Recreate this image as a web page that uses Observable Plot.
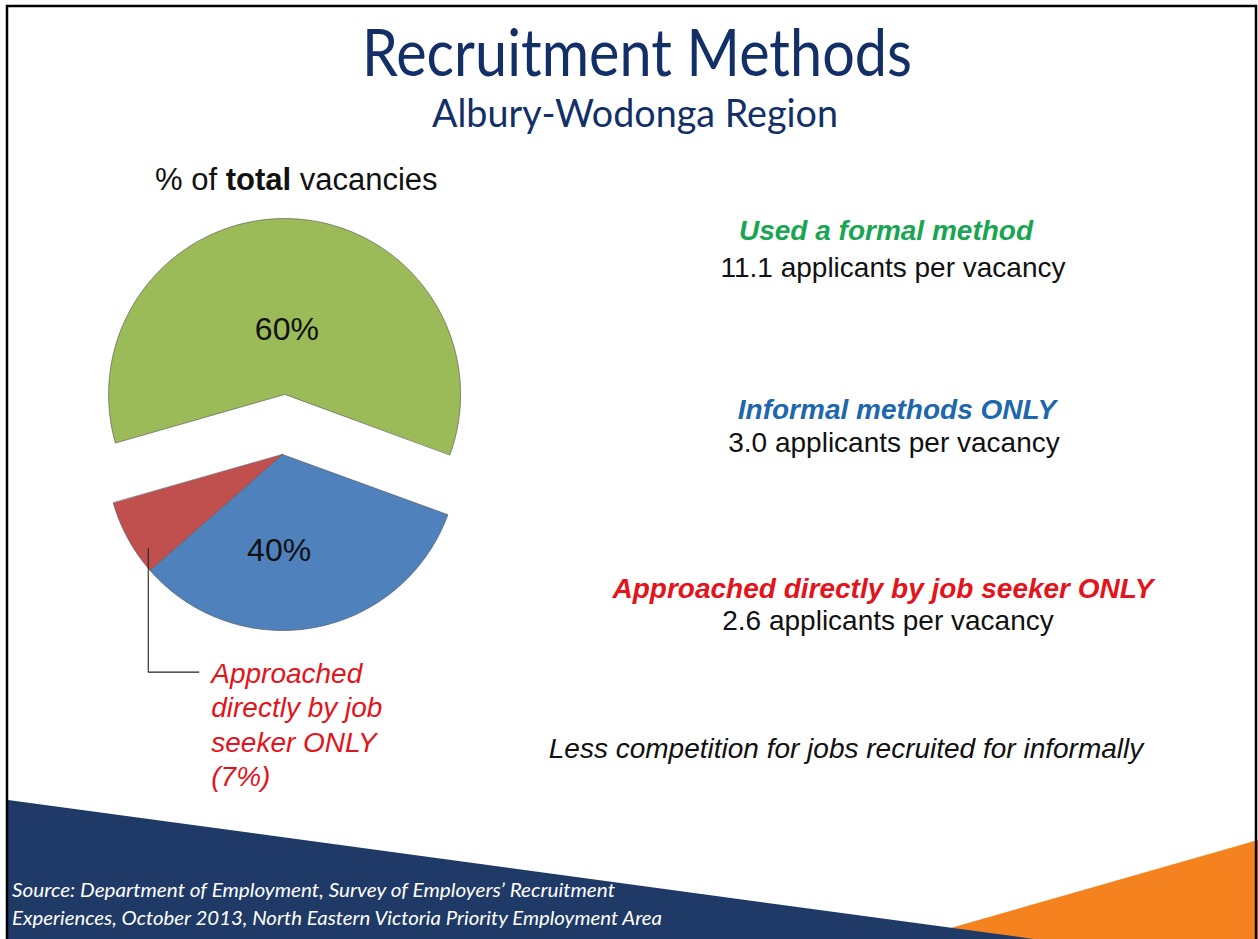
<!DOCTYPE html>
<html><head><meta charset="utf-8">
<script src="https://cdn.jsdelivr.net/npm/d3@7"></script>
<script src="https://cdn.jsdelivr.net/npm/@observablehq/plot@0.6"></script>
<style>
html,body{margin:0;padding:0;background:#fff;}
#page{position:relative;width:1258px;height:939px;overflow:hidden;background:#fff;}
#page svg.layer{position:absolute;left:0;top:0;}
#pie{position:absolute;}
</style></head><body><div id="page"><div id="pie"></div></div>
<script>
// ---------- data ----------
const categories = ["Used a formal method", "Informal methods ONLY", "Approached directly by job seeker ONLY"];
const shares = [60, 33, 7];                  // % of total vacancies (pie slices)
const groupLabels = ["60%", "40%"];          // formal / informal (incl. direct approach)
const directLabel = "Approached\ndirectly by job\nseeker ONLY\n(7%)";
const applicants = [11.1, 3.0, 2.6];          // applicants per vacancy
const titleText = "Recruitment Methods";
const subtitleText = "Albury-Wodonga Region";
const noteText = "Less competition for jobs recruited for informally";
const sourceLines = ["Source: Department of Employment, Survey of Employers\u2019 Recruitment",
                     "Experiences, October 2013, North Eastern Victoria Priority Employment Area"];

// ---------- styles ----------
const sliceColors = ["#9bbb59", "#4f81bd", "#c0504d"];
const headingColors = ["#1aa553", "#1d68ad", "#e3141b"];
const ARIAL = "'Liberation Sans', Arial, sans-serif";
const CAL = "Lato, 'Open Sans', sans-serif";

// ---------- layout ----------
const R = 176, START = -106, EXPLODE = 60;
const PLOT = {left: 62, top: 190, width: 440, height: 620};
const CENTER = {x: 282, y: 454};
const xDomain = [(PLOT.left - CENTER.x) / R, (PLOT.left + PLOT.width - CENTER.x) / R];
const yDomain = [-(PLOT.top + PLOT.height - CENTER.y) / R, (CENTER.y - PLOT.top) / R];

const rows = categories.map((c, i) => ({key: c, share: shares[i]}));
const arcs = d3.pie().sort(null).value(d => d.share)
  .startAngle(START * Math.PI / 180).endAngle((START + 360) * Math.PI / 180)(rows);
const off = arcs.map((a, i) => {
  if (i !== 0) return [0, 0];
  const m = (a.startAngle + a.endAngle) / 2;
  return [Math.sin(m) * EXPLODE / R, Math.cos(m) * EXPLODE / R];
});
const slicePts = arcs.flatMap((a, i) => {
  const [ox, oy] = off[i];
  const n = Math.max(2, Math.ceil((a.endAngle - a.startAngle) / (Math.PI / 180)));
  const pts = [{key: a.data.key, x: ox, y: oy}];
  for (let k = 0; k <= n; k++) {
    const t = a.startAngle + (a.endAngle - a.startAngle) * k / n;
    pts.push({key: a.data.key, x: ox + Math.sin(t), y: oy + Math.cos(t)});
  }
  return pts;
});
const m0 = (arcs[0].startAngle + arcs[0].endAngle) / 2;
const m1 = (arcs[1].startAngle + arcs[2].endAngle) / 2;
const pctLabels = [
  {text: groupLabels[0], x: off[0][0] + 0.37 * Math.sin(m0), y: off[0][1] + 0.37 * Math.cos(m0)},
  {text: groupLabels[1], x: 0.55 * Math.sin(m1), y: 0.55 * Math.cos(m1)}
];
const t2 = arcs[2].startAngle + 0.25 * (arcs[2].endAngle - arcs[2].startAngle);
const lead0 = {x: 0.93 * Math.sin(t2), y: 0.93 * Math.cos(t2)};
const leadY = lead0.y - 124 / R;
const leader = [lead0, {x: lead0.x, y: leadY}, {x: lead0.x + 51 / R, y: leadY}];
const LH = 34.3;
const directPos = [{text: directLabel, x: lead0.x + 63 / R, y: leadY - 1.5 * LH / R}];

// ---------- background ----------
const page = d3.select("#page");
const bg = page.insert("svg", "#pie").attr("class", "layer").attr("width", 1258).attr("height", 939);
bg.append("polygon").attr("points", "1258,840 912,939 1258,939").attr("fill", "#f4831f");
bg.append("polygon").attr("points", "8,800 1034,939 8,939").attr("fill", "#1f3a66");

// ---------- pie ----------
const chart = Plot.plot({
  width: PLOT.width, height: PLOT.height, margin: 0,
  x: {domain: xDomain, axis: null},
  y: {domain: yDomain, axis: null},
  color: {domain: categories, range: sliceColors},
  style: {background: "transparent", overflow: "visible"},
  marks: [
    Plot.line(slicePts, {x: "x", y: "y", z: "key", fill: "key", stroke: "#555", strokeWidth: 0.8, strokeOpacity: 0.8, curve: "linear-closed"}),
    Plot.line(leader, {x: "x", y: "y", stroke: "#222", strokeWidth: 1.1, strokeLinecap: "butt", strokeLinejoin: "miter"}),
    Plot.text(pctLabels, {x: "x", y: "y", text: "text", fontSize: 32, fontFamily: ARIAL, fill: "#111"}),
    Plot.text(directPos, {x: "x", y: "y", text: "text", textAnchor: "start", lineAnchor: "middle", lineHeight: LH / 28,
      fontSize: 28, fontStyle: "italic", fontFamily: ARIAL, fill: headingColors[2]})
  ]
});
const pieDiv = document.getElementById("pie");
pieDiv.style.left = PLOT.left + "px";
pieDiv.style.top = PLOT.top + "px";
pieDiv.appendChild(chart);

// ---------- texts ----------
const fg = page.append("svg").attr("class", "layer").attr("width", 1258).attr("height", 939);
function txt(s, x, y, o) {
  const t = fg.append("text").attr("x", x).attr("y", y).text(s)
    .attr("font-family", o.family || ARIAL).attr("font-size", o.size)
    .attr("fill", o.fill || "#111").attr("text-anchor", o.anchor || "middle");
  if (o.weight) t.attr("font-weight", o.weight);
  if (o.style) t.attr("font-style", o.style);
  if (o.len) t.attr("textLength", o.len).attr("lengthAdjust", "spacingAndGlyphs");
  return t;
}
txt(titleText, 637, 76, {family: CAL, size: 65, fill: "#132f68", len: 550});
txt(subtitleText, 635, 127, {family: CAL, size: 38, fill: "#132f68", len: 406});
const h = fg.append("text").attr("x", 155).attr("y", 190).attr("font-family", ARIAL).attr("font-size", 31).attr("fill", "#111");
h.append("tspan").text("% of ");
h.append("tspan").attr("font-weight", "bold").text("total");
h.append("tspan").text(" vacancies");

const headX = [886, 897, 883], headY = [240, 419, 598];
const valX = [893, 894, 888], valY = [277, 452, 630];
categories.forEach((c, i) => {
  txt(c, headX[i], headY[i], {size: 28, weight: "bold", style: "italic", fill: headingColors[i]});
  txt(applicants[i].toFixed(1) + " applicants per vacancy", valX[i], valY[i], {size: 28});
});
txt(noteText, 846, 758, {size: 28, style: "italic"});
txt(sourceLines[0], 12, 897, {family: CAL, size: 20, style: "italic", fill: "#fff", anchor: "start", len: 603});
txt(sourceLines[1], 12, 925, {family: CAL, size: 20, style: "italic", fill: "#fff", anchor: "start", len: 650});
fg.append("rect").attr("x", 7).attr("y", 6).attr("width", 1249).attr("height", 960)
  .attr("fill", "none").attr("stroke", "#000").attr("stroke-width", 2.5);
</script></body></html>
